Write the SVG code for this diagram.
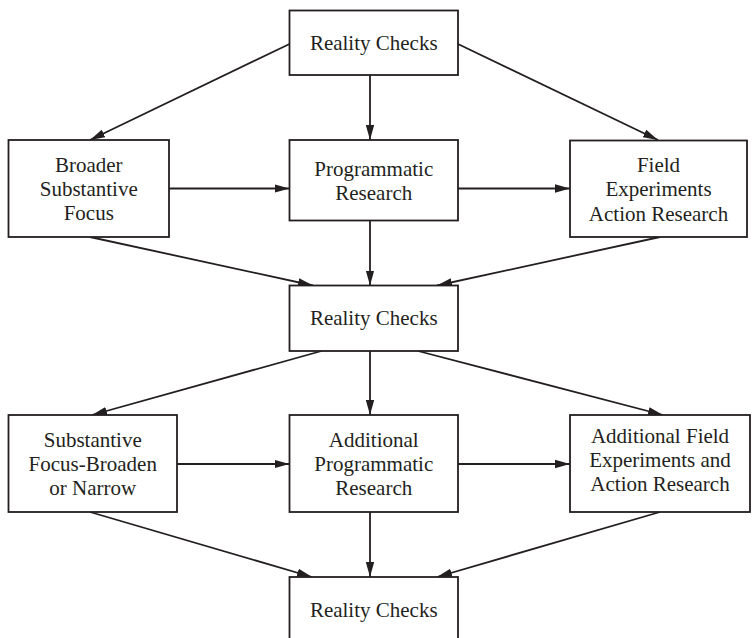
<svg xmlns="http://www.w3.org/2000/svg" width="753" height="638" viewBox="0 0 753 638">
<style>
.b{fill:#fff;stroke:#231f20;stroke-width:1.8}
text{font-family:"Liberation Serif","Times New Roman",serif;font-size:21px;fill:#231f20;text-anchor:middle}
.c line{stroke:#231f20;stroke-width:1.8;marker-end:url(#a)}
</style>
<defs>
<marker id="a" markerUnits="userSpaceOnUse" markerWidth="16" markerHeight="10" refX="15" refY="5" orient="auto"><path d="M0,0.8 L15,5 L0,9.2 Z" fill="#231f20"/></marker>
</defs>
<rect width="753" height="638" fill="#fff"/>
<g class="c">
<line x1="289.5" y1="44" x2="90" y2="140"/>
<line x1="370" y1="75" x2="370" y2="140"/>
<line x1="458" y1="44" x2="658" y2="140"/>
<line x1="169" y1="188.5" x2="289.5" y2="188.5"/>
<line x1="458" y1="188.5" x2="570" y2="188.5"/>
<line x1="90" y1="237" x2="313" y2="285.5"/>
<line x1="370" y1="221" x2="370" y2="285.5"/>
<line x1="660" y1="237" x2="437" y2="285.5"/>
<line x1="321.5" y1="351" x2="92" y2="415"/>
<line x1="370" y1="351" x2="370" y2="415"/>
<line x1="418" y1="351" x2="663" y2="415"/>
<line x1="177" y1="464" x2="289.5" y2="464"/>
<line x1="458" y1="464" x2="570" y2="464"/>
<line x1="90" y1="512" x2="312" y2="577"/>
<line x1="370" y1="512" x2="370" y2="577"/>
<line x1="660" y1="512" x2="437" y2="577"/>
</g>
<g id="rc1"><rect class="b" x="289.5" y="10.5" width="168.5" height="64.5"/><text x="373.75" y="50">Reality Checks</text></g>
<g id="broader"><rect class="b" x="8.5" y="140" width="160.5" height="97"/><text x="88.75" y="172">Broader</text><text x="88.75" y="196">Substantive</text><text x="88.75" y="220">Focus</text></g>
<g id="prog"><rect class="b" x="289.5" y="140" width="168.5" height="80.5"/><text x="373.75" y="176">Programmatic</text><text x="373.75" y="200">Research</text></g>
<g id="field"><rect class="b" x="570" y="140.5" width="177" height="96.5"/><text x="658.5" y="172">Field</text><text x="658.5" y="196">Experiments</text><text x="658.5" y="220.5">Action Research</text></g>
<g id="rc2"><rect class="b" x="289.5" y="285.5" width="168.5" height="65.5"/><text x="373.75" y="325">Reality Checks</text></g>
<g id="subst"><rect class="b" x="8.5" y="415" width="168.5" height="97"/><text x="92.75" y="447">Substantive</text><text x="92.75" y="471">Focus-Broaden</text><text x="92.75" y="495">or Narrow</text></g>
<g id="addprog"><rect class="b" x="289.5" y="415" width="168.5" height="97"/><text x="373.75" y="447">Additional</text><text x="373.75" y="471">Programmatic</text><text x="373.75" y="495">Research</text></g>
<g id="addfield"><rect class="b" x="570" y="415" width="180" height="97"/><text x="660" y="443">Additional Field</text><text x="660" y="467">Experiments and</text><text x="660" y="491">Action Research</text></g>
<g id="rc3"><rect class="b" x="289.5" y="577" width="168.5" height="70"/><text x="373.75" y="617">Reality Checks</text></g>
</svg>
